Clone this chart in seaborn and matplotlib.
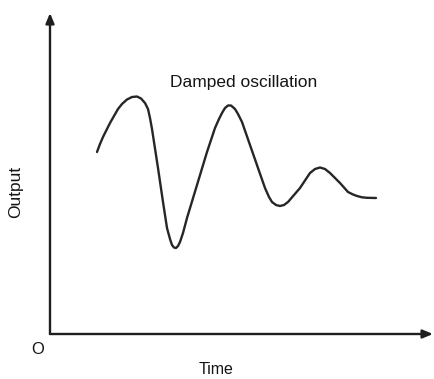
import matplotlib
matplotlib.use("Agg")
import matplotlib.pyplot as plt
import seaborn as sns
import pandas as pd

# Data (time, output in arbitrary units)
time = [47, 50, 53, 57, 60, 64, 68, 72, 77, 82, 87, 91, 95, 98, 100, 102, 104, 108,
        113, 117, 120, 122, 124, 126, 128, 130, 133, 137, 147, 157, 165, 169, 172,
        175, 178, 181, 185, 188, 192, 200, 208, 215, 219, 222, 226, 230, 234, 238,
        244, 250, 260, 265, 270, 275, 280, 290, 298, 303, 307, 312, 317, 326]
output = [182, 190, 197, 205, 211, 218, 225, 230, 234.5, 237, 237.5, 235.5, 231, 225, 216,
          205, 192, 166, 132, 106, 95, 89, 86.5, 86, 88, 92, 101, 116, 149, 182,
          206, 215, 221, 226, 228.5, 228.5, 225, 220, 212, 189, 166, 146, 137, 132,
          129, 128, 129, 132, 139, 146, 161, 165, 166.5, 165, 161, 151, 142, 139.5,
          138, 136.7, 136.2, 136]

title_text = "Damped oscillation"
x_label = "Time"
y_label = "Output"
origin_label = "O"

df = pd.DataFrame({"Time": time, "Output": output})

sns.set_style("white")
plt.rcParams["font.family"] = ["Liberation Sans", "DejaVu Sans"]

W, H = 435, 379
fig = plt.figure(figsize=(W / 100, H / 100), dpi=100)
ax = fig.add_axes([50 / W, (H - 334) / H, (433 - 50) / W, (334 - 13) / H])

sns.lineplot(data=df, x="Time", y="Output", ax=ax, color="#262626",
             linewidth=1.7, sort=False, estimator=None)

ax.set_xlim(0, 383)
ax.set_ylim(0, 321)
for s in ax.spines.values():
    s.set_visible(False)
ax.set_xticks([])
ax.set_yticks([])
ax.set_xlabel("")
ax.set_ylabel("")

arrow = dict(arrowstyle="-|>,head_length=0.6,head_width=0.25", color="#1e1e1e",
             lw=1.7, shrinkA=0, shrinkB=0)
ax.annotate("", xy=(0, 1), xytext=(0, 0), xycoords="axes fraction",
            textcoords="axes fraction", arrowprops=arrow, annotation_clip=False)
ax.annotate("", xy=(1, 0), xytext=(0, 0), xycoords="axes fraction",
            textcoords="axes fraction", arrowprops=arrow, annotation_clip=False)

txt = "#151515"
fig.text(244 / W, 1 - 82 / H, title_text, ha="center", va="center",
         fontsize=12.5, color=txt)
fig.text(216 / W, 1 - 370 / H, x_label, ha="center", va="center",
         fontsize=11.5, color=txt)
fig.text(16 / W, 1 - 192 / H, y_label, ha="center", va="center", rotation=90,
         fontsize=12.5, color=txt)
fig.text(38 / W, 1 - 349 / H, origin_label, ha="center", va="center",
         fontsize=12, color=txt)

fig.savefig("out.png", dpi=100)
